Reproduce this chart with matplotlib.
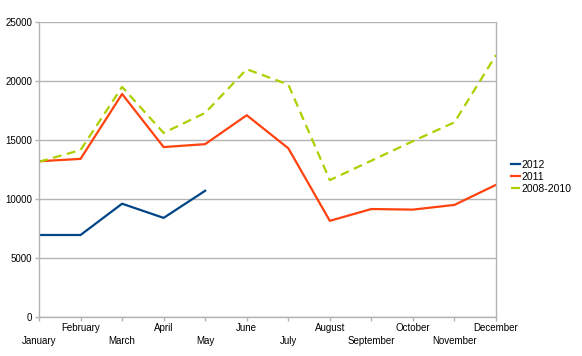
import matplotlib
matplotlib.use('Agg')
import matplotlib.pyplot as plt

months = ['January', 'February', 'March', 'April', 'May', 'June',
          'July', 'August', 'September', 'October', 'November', 'December']

sales2012 = [6950, 6950, 9600, 8400, 10700]
sales2011 = [13200, 13400, 18900, 14400, 14650, 17100,
             14300, 8150, 9150, 9100, 9500, 11200]
sales0810 = [13150, 14150, 19500, 15600, 17300, 21000,
             19700, 11600, 13250, 14900, 16500, 22200]

yTicks = [0, 5000, 10000, 15000, 20000, 25000]

plt.rcParams['font.family'] = ['Liberation Sans', 'DejaVu Sans']

fig = plt.figure(figsize=(5.82, 3.56), dpi=100)
ax = fig.add_axes([39 / 582, 39 / 356, 457 / 582, 295 / 356])

gridColor = '#b3b3b3'

x = list(range(len(months)))
ax.plot(x[:len(sales2012)], sales2012, color='#004586', lw=1.6, label='2012')
ax.plot(x, sales2011, color='#ff420e', lw=1.6, label='2011')
ax.plot(x, sales0810, color='#aecf00', lw=1.6, dashes=(4, 2.5), label='2008-2010')

ax.set_xlim(0, len(months) - 1)
ax.set_ylim(0, 25000)
ax.set_yticks(yTicks)
ax.set_yticklabels([str(v) for v in yTicks])
ax.yaxis.grid(True, color=gridColor, lw=1)
ax.set_axisbelow(True)

# alternate the month labels onto two rows, like the original
ax.set_xticks(x)
ax.set_xticklabels([('\n' + m) if i % 2 == 0 else m for i, m in enumerate(months)])

for s in ax.spines.values():
    s.set_color(gridColor)
    s.set_linewidth(1)
ax.spines['top'].set_visible(False)

ax.tick_params(axis='both', colors=gridColor, labelcolor='black', labelsize=7,
               length=3, width=1, pad=2)
ax.tick_params(axis='x', pad=1.5)

for lbl in ax.get_xticklabels():
    lbl.set_linespacing(1.4)

ax.legend(loc='center left', bbox_to_anchor=(1.0, 0.475), frameon=False,
          fontsize=7.5, handlelength=0.9, handletextpad=0.15,
          labelspacing=0.2, borderaxespad=1.0)

fig.savefig('out.png', dpi=100)
